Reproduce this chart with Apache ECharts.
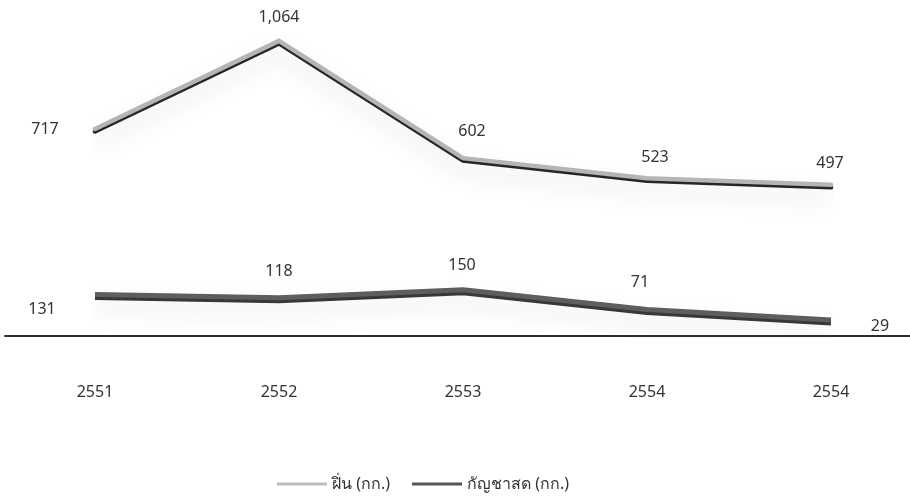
<!DOCTYPE html>
<html><head><meta charset="utf-8">
<script src="https://cdn.jsdelivr.net/npm/echarts@6/dist/echarts.min.js"></script>
<style>html,body{margin:0;padding:0;background:#fff}#c{width:910px;height:503px}</style>
</head><body><div id="c"></div>
<script>
var categories = ['2551', '2552', '2553', '2554', '2554'];
var opiumName = 'ฝิ่น (กก.)';
var cannabisName = 'กัญชาสด (กก.)';
var opium = [717, 1064, 602, 523, 497];
var cannabis = [131, 118, 150, 71, 29];

var opiumLabelOffsets = [[-50, 0], [0, -23], [9, -27], [8, -21], [-1, -21]];
var cannabisLabelOffsets = [[-53, 15], [0, -26], [-1, -24], [-7, -27], [49, 6]];

function withLabels(vals, offs) {
  return vals.map(function (v, i) {
    return { value: v, label: { offset: offs[i] } };
  });
}
function fmt(p) { return p.value.toLocaleString('en-US'); }

var font = "'Noto Sans', 'DejaVu Sans', sans-serif";
var chart = echarts.init(document.getElementById('c'));
chart.setOption({
  animation: false,
  textStyle: { fontFamily: font },
  grid: [
    { left: 95, right: 79, top: 0, height: 336 },
    { left: 5, right: 0, top: 0, height: 336 }
  ],
  xAxis: [
    {
      type: 'category', data: categories, boundaryGap: false, gridIndex: 0,
      axisLine: { show: false }, axisTick: { show: false },
      axisLabel: { color: '#333', fontSize: 16, margin: 48, fontFamily: font }
    },
    {
      type: 'category', data: categories, boundaryGap: true, gridIndex: 1,
      axisLine: { onZero: false, lineStyle: { color: '#2e2e2e', width: 2 } },
      axisTick: { show: false }, axisLabel: { show: false }
    }
  ],
  yAxis: [
    { type: 'value', gridIndex: 0, min: -98.6, max: 1225, show: false, splitLine: { show: false } },
    { type: 'value', gridIndex: 0, min: -35, max: 1309, show: false, splitLine: { show: false } },
    { type: 'value', gridIndex: 1, min: 0, max: 1, show: false, splitLine: { show: false } }
  ],
  legend: {
    data: [
      { name: opiumName, itemStyle: { color: '#bdbdbd', opacity: 1 } },
      { name: cannabisName, itemStyle: { color: '#555555', opacity: 1 } }
    ],
    bottom: 6, left: 272,
    icon: 'rect', itemWidth: 50, itemHeight: 3, itemGap: 22,
    textStyle: { color: '#333', fontSize: 16, fontFamily: font }
  },
  series: [
    {
      name: 'glow1', type: 'line', data: opium, xAxisIndex: 0, yAxisIndex: 0, silent: true,
      symbol: 'none', z: 1,
      lineStyle: { color: '#ffffff', width: 6, shadowColor: 'rgba(0,0,0,0.13)', shadowBlur: 22, shadowOffsetY: 12 }
    },
    {
      name: 'glow2', type: 'line', data: cannabis, xAxisIndex: 0, yAxisIndex: 1, silent: true,
      symbol: 'none', z: 1,
      lineStyle: { color: '#ffffff', width: 6, shadowColor: 'rgba(0,0,0,0.13)', shadowBlur: 22, shadowOffsetY: 12 }
    },
    {
      name: opiumName, type: 'line', xAxisIndex: 0, yAxisIndex: 0, z: 3,
      data: withLabels(opium, opiumLabelOffsets),
      symbol: 'circle', symbolSize: 1, showSymbol: true,
      itemStyle: { color: 'rgba(0,0,0,0)' },
      lineStyle: { color: '#b5b5b5', width: 4.5, shadowColor: '#262626', shadowOffsetY: 2.5, shadowBlur: 0, cap: 'round', join: 'miter' },
      label: { show: true, position: 'inside', color: '#333', fontSize: 16, formatter: fmt }
    },
    {
      name: cannabisName, type: 'line', xAxisIndex: 0, yAxisIndex: 1, z: 3,
      data: withLabels(cannabis, cannabisLabelOffsets),
      symbol: 'circle', symbolSize: 1, showSymbol: true,
      itemStyle: { color: 'rgba(0,0,0,0)' },
      lineStyle: { color: '#5e5e5e', width: 5, shadowColor: '#383838', shadowOffsetY: 3, shadowBlur: 0, cap: 'butt' },
      label: { show: true, position: 'inside', color: '#333', fontSize: 16, formatter: fmt }
    }
  ]
});
</script></body></html>
